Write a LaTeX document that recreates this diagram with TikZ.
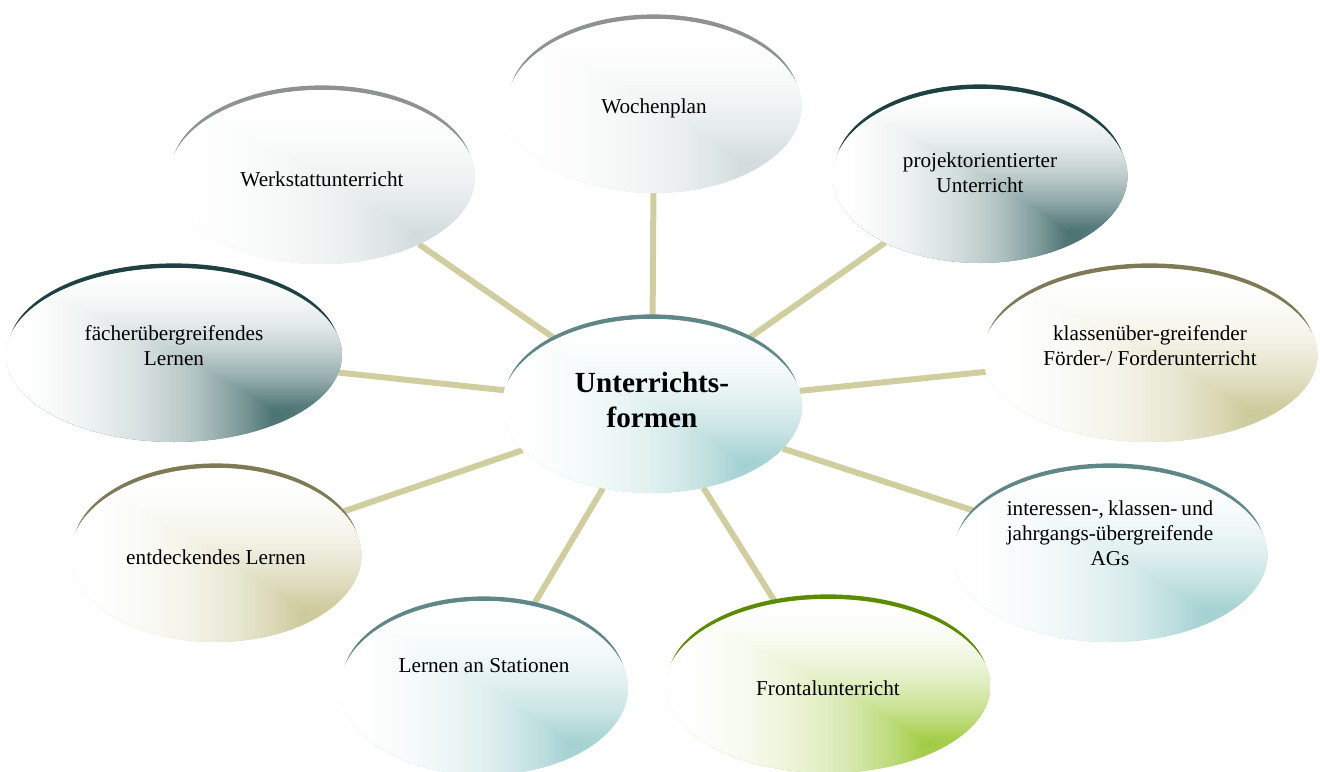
\documentclass[tikz,border=0pt]{standalone}
\usepackage{fontspec}
\setmainfont{Liberation Serif}
\usepackage{calc}
\usepackage{tikz}
\usetikzlibrary{shapes.geometric,shadows,backgrounds}
\definecolor{rgray}{HTML}{8E9292}
\definecolor{rteal}{HTML}{5F8787}
\definecolor{rslate}{HTML}{1E4242}
\definecolor{rkhaki}{HTML}{7E7A56}
\definecolor{rgreen}{HTML}{5C8A00}
\definecolor{lgray}{HTML}{D3DCDC}
\definecolor{lteal}{HTML}{A3D1D1}
\definecolor{lslate}{HTML}{4A7272}
\definecolor{lkhaki}{HTML}{CCC999}
\definecolor{lgreen}{HTML}{A2CC44}
\definecolor{lsand}{HTML}{D0CE9E}
\colorlet{spot}{white}
\pgfdeclarehorizontalshading[spot]{hramp}{100bp}{color(0bp)=(white); color(28bp)=(white);
  color(37bp)=(spot!9!white); color(45bp)=(spot!22!white); color(53bp)=(spot!42!white);
  color(60bp)=(spot!72!white); color(65bp)=(spot); color(75bp)=(spot!85!white); color(100bp)=(spot!85!white)}
\pgfdeclareverticalshading[spot]{vramp}{100bp}{color(0bp)=(spot!90!white); color(25bp)=(spot!90!white);
  color(34bp)=(spot); color(43bp)=(spot!60!white); color(51bp)=(spot!34!white); color(59bp)=(spot!15!white);
  color(66bp)=(spot!5!white); color(73bp)=(white); color(100bp)=(white)}
\tikzset{
 oval/.style 2 args={ellipse,inner sep=0pt,outer sep=0pt,align=center,minimum height=87pt,
   font=\fontsize{10.6}{12.5}\selectfont,
   /utils/exec={\colorlet{spot}{#1}},
   general shadow={fill=#2,shadow xshift=0pt,shadow yshift=3pt,shadow scale=0.985},
   path picture={
     \shade[shading=hramp] (path picture bounding box.south west) rectangle (path picture bounding box.north east);
     \shade[shading=vramp,blend mode=lighten] (path picture bounding box.south west) rectangle (path picture bounding box.north east);}},
 grayoval/.style={oval={lgray}{rgray}},
 tealoval/.style={oval={lteal}{rteal}},
 slateoval/.style={oval={lslate}{rslate}},
 khakioval/.style={oval={lkhaki}{rkhaki}},
 greenoval/.style={oval={lgreen}{rgreen}},
 lift/.style={text depth=#1},
 spoke/.style={draw=lsand,line width=3pt}
}
\begin{document}
\begin{tikzpicture}[x=0.5pt,y=-0.5pt]
 \useasboundingbox (0,0) rectangle (1320,771);
 \node[tealoval,minimum width=150pt,lift=6pt,font=\bfseries\fontsize{14.6}{17.5}\selectfont] (cen) at (652,406) {Unterrichts-\\formen};
 \node[grayoval,minimum width=147.5pt,text height=10pt] (wp) at (654,106) {Wochenplan};
 \node[grayoval,minimum width=153pt,text height=10pt] (ws) at (322,177) {Werkstattunterricht};
 \node[slateoval,minimum width=147.5pt,lift=3.5pt] (pj) at (980,176) {projektorientierter\\Unterricht};
 \node[slateoval,minimum width=168pt,lift=9.5pt] (fu) at (174,355) {fächerübergreifendes\\Lernen};
 \node[khakioval,minimum width=167.5pt,lift=9.5pt] (kf) at (1150,355) {klassenüber-greifender\\Förder-/ Forderunterricht};
 \node[tealoval,minimum width=157.5pt,lift=22pt] (ag) at (1110,555) {\makebox[\widthof{jahrgangs-übergreifende}][s]{interessen-, klassen- und}\\jahrgangs-übergreifende\\AGs};
 \node[khakioval,minimum width=145.5pt,text height=10pt] (el) at (216,555) {entdeckendes Lernen};
 \node[tealoval,minimum width=144pt,lift=23pt] (ls) at (484,688) {Lernen an Stationen};
 \node[greenoval,minimum width=162.5pt,text height=10pt] (fr) at (828,686) {Frontalunterricht};
 \begin{scope}[on background layer]
  \draw[spoke] (cen)--(wp);
  \draw[spoke] (cen)--(ws);
  \draw[spoke] (cen)--(pj);
  \draw[spoke] (cen)--(fu);
  \draw[spoke] (cen)--(kf);
  \draw[spoke] (cen)--(ag);
  \draw[spoke] (cen)--(el);
  \draw[spoke] (cen)--(ls);
  \draw[spoke] (cen)--(fr);
 \end{scope}
\end{tikzpicture}
\end{document}
